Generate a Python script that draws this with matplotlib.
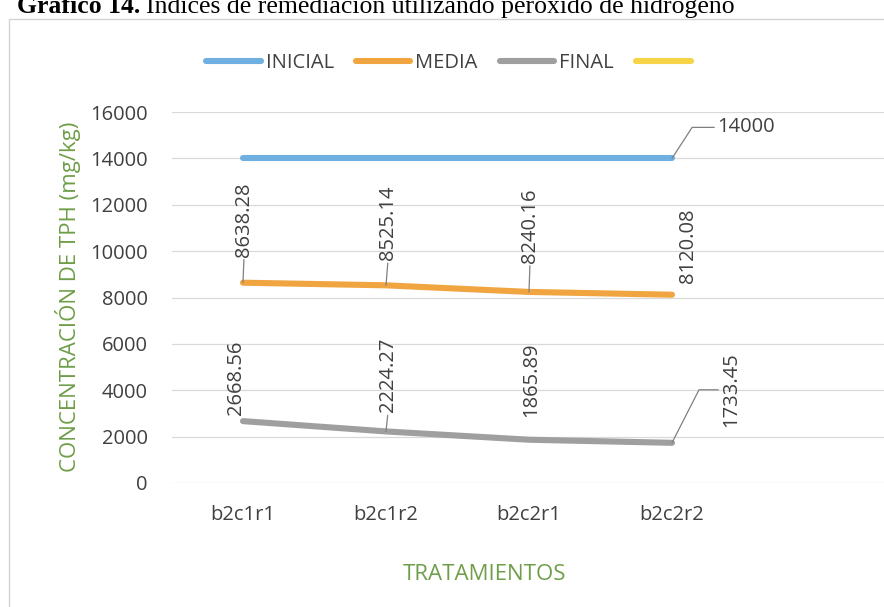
import matplotlib
matplotlib.use("Agg")
import matplotlib.pyplot as plt
from matplotlib.lines import Line2D
from matplotlib.patches import Rectangle

# data
tratamientos = ["b2c1r1", "b2c1r2", "b2c2r1", "b2c2r2"]
inicial = [14000, 14000, 14000, 14000]
media = [8638.28, 8525.14, 8240.16, 8120.08]
final = [2668.56, 2224.27, 1865.89, 1733.45]
series_names = ["INICIAL", "MEDIA", "FINAL", ""]
y_ticks = [0, 2000, 4000, 6000, 8000, 10000, 12000, 14000, 16000]

W, H = 884, 607
plt.rcParams["font.family"] = ["Open Sans", "DejaVu Sans"]

fig = plt.figure(figsize=(W / 100, H / 100), dpi=100)
fig.patch.set_facecolor("white")

# chart frame (cropped at right and bottom)
fig.patches.append(Rectangle((9 / W, -0.1), 1.2, 1.1 - 19 / H, transform=fig.transFigure,
                             fill=False, edgecolor="#d4d4d4", lw=1.0))

ax = fig.add_axes([171.5 / W, (H - 483) / H, 715 / W, 371 / H])
ax.set_facecolor("none")
x = list(range(len(tratamientos)))

colors = ["#6fb0e0", "#f0a540", "#9f9f9f", "#f6d445"]
lw = 4.4
ax.plot(x, inicial, color=colors[0], lw=lw, solid_capstyle="round", zorder=3)
ax.plot(x, media, color=colors[1], lw=lw, solid_capstyle="round", zorder=3)
ax.plot(x, final, color=colors[2], lw=lw, solid_capstyle="round", zorder=3)

fs = 14.5
ax.set_xlim(-0.5, 4.5)
ax.set_ylim(0, 16000)
ax.set_yticks(y_ticks)
ax.set_yticklabels([str(v) for v in y_ticks])
ax.set_xticks(x)
ax.set_xticklabels(tratamientos)
ax.tick_params(axis="y", length=0, pad=17, labelsize=fs, labelcolor="#404040")
ax.tick_params(axis="x", length=0, pad=16, labelsize=fs, labelcolor="#404040")
ax.grid(True, axis="y", color="#d9d9d9", lw=0.9)
ax.set_axisbelow(True)
for s in ax.spines.values():
    s.set_visible(False)

lab_kw = dict(textcoords="offset pixels", fontsize=fs, color="#404040", rotation=90)
lead = dict(arrowstyle="-", color="#808080", lw=0.9, shrinkA=0, shrinkB=0, relpos=(0.5, 0))

# MEDIA labels
media_off = [(1, 26), (2, 25), (1, 29), (16, 12)]
media_lead = [True, True, True, False]
for i, v in enumerate(media):
    ax.annotate(f"{v:.2f}", (x[i], v), xytext=media_off[i], ha="center", va="bottom",
                arrowprops=lead if media_lead[i] else None, zorder=5, **lab_kw)

# FINAL labels
final_off = [(-7, 6), (2, 19), (2, 23)]
final_lead = [False, True, False]
for i in range(3):
    ax.annotate(f"{final[i]:.2f}", (x[i], final[i]), xytext=final_off[i], ha="center",
                va="bottom", arrowprops=lead if final_lead[i] else None, zorder=5, **lab_kw)
ax.annotate(f"{final[3]:.2f}", (x[3], final[3]), xytext=(59, 53), ha="center", va="center",
            arrowprops=dict(arrowstyle="-", color="#808080", lw=0.9, shrinkA=0, shrinkB=0,
                            relpos=(0, 0.5), connectionstyle="angle,angleA=0,angleB=63,rad=0"),
            zorder=5, **lab_kw)

# INICIAL label (last point only)
ax.annotate(f"{inicial[3]}", (x[3], inicial[3]), xytext=(45, 31), textcoords="offset pixels",
            ha="left", va="center", fontsize=fs, color="#404040",
            arrowprops=dict(arrowstyle="-", color="#808080", lw=0.9, shrinkA=0, shrinkB=0,
                            relpos=(0, 0.5), connectionstyle="angle,angleA=0,angleB=57,rad=0"))

# axis titles
fig.text(68 / W, 1 - 297 / H, "CONCENTRACIÓN DE TPH (mg/kg)", rotation=90, ha="center",
         va="center", fontsize=16, color="#6e9e48")
fig.text(484 / W, 1 - 575 / H, "TRATAMIENTOS", ha="center", va="center", fontsize=16,
         color="#6e9e48")

# legend
handles = [Line2D([], [], color=c, lw=lw, solid_capstyle="round") for c in colors]
fig.legend(handles, series_names, loc="center", bbox_to_anchor=(451 / W, 1 - 63 / H), ncol=4,
           frameon=False, fontsize=14.5, handlelength=2.7, handletextpad=0.25,
           columnspacing=1.1, labelcolor="#404040")

# caption at the top, cut by the page edge
t1 = fig.text(17 / W, 1 - 13 / H, "Gráfico 14.", fontsize=18.5, weight="bold",
              family="Liberation Serif", color="black", va="baseline")
fig.canvas.draw()
bb = t1.get_window_extent()
fig.text(bb.x1 / W + 6 / W, 1 - 13 / H, "Índices de remediación utilizando peróxido de hidrógeno",
         fontsize=18.5, family="Liberation Serif", color="black", va="baseline")

fig.savefig("out.png", dpi=100)
